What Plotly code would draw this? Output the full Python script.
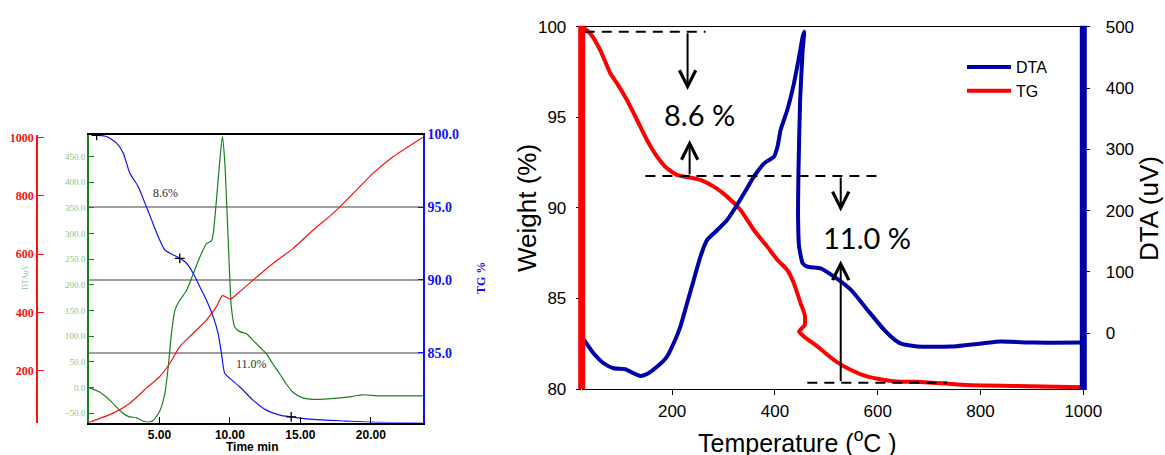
import plotly.graph_objects as go

W, H = 1165, 455

# ---------------- Left panel data (instrument plot) ----------------
time_tg = [0, 0.54, 1.25, 1.96, 2.43, 2.90, 3.49, 3.97, 4.44, 4.91, 5.38, 5.85, 6.44, 6.92, 7.39,
           7.86, 8.33, 8.81, 9.16, 9.40, 9.63, 9.99, 10.69, 11.64, 12.58, 13.53, 14.35, 15.89,
           18.25, 19.90, 23.68]
tg_left = [100, 99.95, 99.86, 99.41, 98.72, 97.34, 96.42, 95.28, 94.13, 92.98, 92.06, 91.79,
           91.49, 91.15, 90.46, 89.54, 88.62, 87.48, 86.33, 84.95, 83.58, 83.23, 82.66, 81.74,
           81.05, 80.71, 80.59, 80.41, 80.30, 80.23, 80.18]

time_dta = [0, 0.78, 1.49, 2.20, 2.79, 3.38, 3.73, 4.20, 4.56, 5.03, 5.38, 5.62, 5.85, 6.09, 6.44,
            6.92, 7.39, 7.86, 8.33, 8.69, 8.81, 9.04, 9.28, 9.47, 9.63, 9.87, 10.10, 10.34, 10.69,
            11.17, 11.64, 12.11, 12.58, 13.05, 13.53, 14.0, 14.47, 15.18, 15.89, 17.78, 18.72,
            19.43, 20.61, 23.68]
dta_left = [0, -9, -25, -45, -56, -59, -64, -67, -64, -45, -12, 40, 105, 150, 170, 189, 221, 254,
            280, 286, 299, 364, 442, 489, 442, 293, 157, 118, 109, 105, 92, 79, 66, 46, 27, 7, -9,
            -20, -23, -20, -17, -14, -16, -16]

time_temp = [0, 1.72, 2.90, 4.08, 5.03, 5.74, 6.44, 7.39, 8.33, 9.04, 9.47, 9.75, 10.03, 10.69,
             11.64, 13.05, 14.47, 15.89, 17.30, 18.72, 20.13, 21.55, 23.68]
temp_left = [23, 55, 89, 141, 181, 226, 283, 329, 374, 420, 458, 452, 446, 471, 511, 568, 619,
             682, 739, 807, 876, 933, 1000]

mark_time = [0.54, 6.44, 14.35]
mark_tg = [99.95, 91.49, 80.59]

left_labels = ["8.6%", "11.0%"]
left_label_time = [5.45, 11.5]
left_label_tg = [96.0, 84.2]

time_ticks = [5, 10, 15, 20]
dta_ticks_left = [-50, 0, 50, 100, 150, 200, 250, 300, 350, 400, 450]
tg_ticks_left = [85, 90, 95, 100]
temp_ticks_left = [200, 400, 600, 800, 1000]

# ---------------- Right panel data ----------------
temp_tg = [25, 40.6, 60, 79.6, 92.7, 112, 131.7, 151, 170.7, 190, 210, 235.7, 255, 281, 307, 333,
           359, 385, 405, 424, 437, 450, 458, 458, 447, 457, 483, 515, 548, 580.5, 613, 645.5,
           677, 774, 871, 1000]
weight = [100, 99.63, 98.71, 97.43, 96.87, 95.95, 94.85, 93.75, 92.83, 92.18, 91.81, 91.67,
          91.54, 91.17, 90.62, 89.88, 88.78, 87.86, 87.12, 86.57, 85.83, 84.73, 84.09, 83.53,
          83.17, 82.89, 82.34, 81.60, 81.05, 80.68, 80.50, 80.40, 80.40, 80.22, 80.17, 80.09]

temp_dta = [25, 30.8, 47, 66.6, 86, 109, 125, 138, 151, 171, 190, 203, 216, 229, 242, 255, 268,
            288, 307, 320, 340, 359, 379, 398, 405, 411, 424, 437, 447, 454, 457, 454, 449, 446,
            445, 447, 454, 463, 489, 515, 548, 580, 613, 632, 645, 677, 742, 806, 839, 903, 1000]
dta_right = [-8, -13.6, -32.7, -49, -57.1, -58.8, -65.3, -69.6, -66.4, -54.4, -38.1, -16.4, 10.8,
             48.9, 86.9, 125, 152.1, 168.4, 184.7, 201, 228.2, 255.4, 277.1, 288, 304.3, 331.5,
             364.1, 407.6, 451, 483.7, 491.8, 461.9, 380.4, 271.7, 190.2, 141.3, 114.1, 108.6,
             105.9, 92.3, 70.6, 38, 5, -10, -17, -21.8, -21.8, -16.4, -13.6, -15.3, -15.3]

temp_ticks = [200, 400, 600, 800, 1000]
weight_ticks = [80, 85, 90, 95, 100]
dta_ticks_right = [0, 100, 200, 300, 400, 500]

# dashed reference levels: (start T, end T, weight)
dash_start = [30, 148, 463]
dash_end = [265, 606, 735]
dash_level = [99.72, 91.76, 80.35]

# arrows: tail -> head (T, weight)
arrow_t = [230, 234, 528, 528]
arrow_tail = [99.72, 91.76, 91.76, 80.35]
arrow_head = [96.5, 93.75, 89.8, 87.1]

loss_labels = ["8.6 %", "11.0 %"]
loss_label_t = [253, 579]
loss_label_w = [95.15, 88.35]

# ---------------- Layout geometry (pixels) ----------------
L_x0, L_x1, L_y0, L_y1 = 89, 423, 134.5, 422.5
R_x0, R_x1, R_y0, R_y1 = 581.7, 1083.3, 26.7, 389

def px(x):
    return x / W

def py(y):
    return 1 - y / H

serif = "Liberation Serif"
sans = "Liberation Sans"

fig = go.Figure()

# Left panel traces
fig.add_trace(go.Scatter(x=time_dta, y=dta_left, mode="lines", line=dict(color="#1a7f1a", width=1.2, shape="spline", smoothing=0.6),
                         xaxis="x", yaxis="y", showlegend=False))
fig.add_trace(go.Scatter(x=time_temp, y=temp_left, mode="lines", line=dict(color="#ff1010", width=1.2, shape="spline", smoothing=0.6),
                         xaxis="x", yaxis="y3", showlegend=False))
fig.add_trace(go.Scatter(x=time_tg, y=tg_left, mode="lines", line=dict(color="#1010ff", width=1.2, shape="spline", smoothing=0.6),
                         xaxis="x", yaxis="y2", showlegend=False))
fig.add_trace(go.Scatter(x=mark_time, y=mark_tg, mode="markers",
                         marker=dict(symbol="cross-thin", size=7, line=dict(color="black", width=1.3)),
                         xaxis="x", yaxis="y2", showlegend=False))

# Right panel traces
fig.add_trace(go.Scatter(x=temp_tg, y=weight, mode="lines", name="TG", legendrank=2,
                         line=dict(color="#ff0000", width=4, shape="spline", smoothing=0.5),
                         xaxis="x2", yaxis="y4"))
fig.add_trace(go.Scatter(x=temp_dta, y=dta_right, mode="lines", name="DTA", legendrank=1,
                         line=dict(color="#0000a8", width=4, shape="spline", smoothing=0.5),
                         xaxis="x2", yaxis="y5"))

shapes = []
# thick coloured vertical axis lines of right panel
shapes.append(dict(type="line", xref="paper", yref="paper", x0=px(R_x0), x1=px(R_x0),
                   y0=py(R_y1), y1=py(R_y0 - 1), line=dict(color="#ff0000", width=7)))
shapes.append(dict(type="line", xref="paper", yref="paper", x0=px(R_x1), x1=px(R_x1),
                   y0=py(R_y1 + 1), y1=py(R_y0 - 1), line=dict(color="#0000a8", width=7)))
for s, e, lv in zip(dash_start, dash_end, dash_level):
    shapes.append(dict(type="line", xref="x2", yref="y4", x0=s, x1=e, y0=lv, y1=lv,
                       line=dict(color="black", width=2, dash="10px,7px")))

annotations = []
for t, tail, head in zip(arrow_t, arrow_tail, arrow_head):
    annotations.append(dict(x=t, y=head, ax=t, ay=tail, xref="x2", yref="y4", axref="x2", ayref="y4",
                            text="", showarrow=True, arrowhead=5, arrowsize=1.6, arrowwidth=2,
                            arrowcolor="black", standoff=0, startstandoff=0))
for txt, t, w in zip(loss_labels, loss_label_t, loss_label_w):
    annotations.append(dict(x=t, y=w, xref="x2", yref="y4", text=txt, showarrow=False,
                            font=dict(family="Lato", size=29, color="black")))
for txt, t, v in zip(left_labels, left_label_time, left_label_tg):
    annotations.append(dict(x=t, y=v, xref="x", yref="y2", text=txt, showarrow=False,
                            font=dict(family=serif, size=12, color="#333333")))

# axis titles as annotations (centred on their reference positions)
def title(x, y, text, font, angle=0):
    return dict(x=px(x), y=py(y), xref="paper", yref="paper", text=text, textangle=angle,
                xanchor="center", yanchor="middle", showarrow=False, font=font)

annotations += [
    title(527, 208, "Weight (%)", dict(family=sans, size=26, color="black"), -90),
    title(1149, 209, "DTA (uV)", dict(family=sans, size=26, color="black"), -90),
    title(797, 441, "Temperature (<sup>o</sup>C )", dict(family=sans, size=25, color="black")),
    title(252, 447, "Time min", dict(family=sans, size=12, color="black", weight="bold")),
    title(25, 277, "DTAuV", dict(family=serif, size=8, color="#88c488"), -90),
    title(481, 278, "TG %", dict(family=serif, size=12, color="#1010ff", weight="bold"), -90),
]

fig.update_layout(
    width=W, height=H, margin=dict(l=0, r=0, t=0, b=0, autoexpand=False),
    paper_bgcolor="white", plot_bgcolor="rgba(0,0,0,0)",
    shapes=shapes, annotations=annotations,
    legend=dict(x=px(962), y=py(50), xanchor="left", yanchor="top", bgcolor="rgba(0,0,0,0)",
                font=dict(family=sans, size=16, color="black"), itemwidth=44, tracegroupgap=0),
    # left panel
    xaxis=dict(domain=[px(L_x0), px(L_x1)], anchor="y", range=[0, 23.7], tickvals=time_ticks,
               tickformat=".2f", ticks="inside", ticklen=6, tickcolor="black", showline=True,
               linecolor="black", linewidth=1.5, mirror=True, showgrid=False, zeroline=False,
               automargin=False, tickfont=dict(family=sans, size=12, color="black", weight="bold")),
    yaxis=dict(domain=[py(L_y1), py(L_y0)], anchor="x", range=[-68, 493], tickvals=dta_ticks_left,
               tickformat=".1f", ticks="inside", ticklen=5, tickcolor="#1a7f1a", showline=True,
               linecolor="#1a7f1a", linewidth=2, showgrid=False, zeroline=False, automargin=False,
               tickfont=dict(family=serif, size=9, color="#88c488")),
    yaxis2=dict(overlaying="y", side="right", anchor="x", range=[80.2, 100], tickvals=tg_ticks_left,
                tickformat=".1f", ticks="inside", ticklen=5, tickcolor="#1010ff", showline=True,
                linecolor="#1010ff", linewidth=1.5, showgrid=True, gridcolor="#a0a0a0", gridwidth=1.5,
                zeroline=False, automargin=False,
                tickfont=dict(family=serif, size=14, color="#1010ff", weight="bold")),
    yaxis3=dict(overlaying="y", side="left", anchor="free", position=px(37), range=[23, 1010],
                tickvals=temp_ticks_left, ticks="inside", ticklen=6, tickcolor="#ff1010", showline=True,
                linecolor="#ff1010", linewidth=1.5, showgrid=False, zeroline=False, automargin=False,
                tickfont=dict(family=serif, size=12, color="#ff1010", weight="bold")),
    # right panel
    xaxis2=dict(domain=[px(R_x0), px(R_x1)], anchor="y4", range=[24, 1000], tickvals=temp_ticks,
                ticks="outside", ticklen=5, tickcolor="black", showline=True, linecolor="black",
                linewidth=1, mirror=True, showgrid=False, zeroline=False, ticklabelstandoff=2,
                automargin=False, tickfont=dict(family=sans, size=17, color="black")),
    yaxis4=dict(domain=[py(R_y1), py(R_y0)], anchor="x2", range=[80, 100], tickvals=weight_ticks,
                ticks="outside", ticklen=5, tickcolor="black", showline=False, showgrid=False,
                zeroline=False, ticklabelstandoff=6, automargin=False,
                tickfont=dict(family=sans, size=17, color="black")),
    yaxis5=dict(overlaying="y4", side="right", anchor="x2", range=[-91, 500], tickvals=dta_ticks_right,
                ticks="outside", ticklen=6, tickcolor="black", showline=False, showgrid=False,
                zeroline=False, ticklabelstandoff=12, automargin=False,
                tickfont=dict(family=sans, size=17, color="black")),
)

fig.write_html("out.html")
